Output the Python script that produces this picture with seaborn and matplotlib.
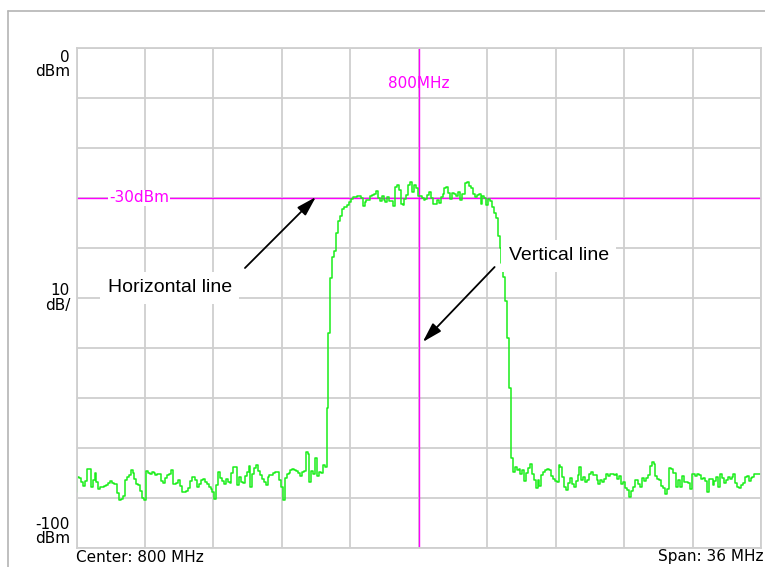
"""
Spectrum analyzer screen: trace with horizontal and vertical marker lines
"""
import numpy as np
import pandas as pd

import matplotlib
matplotlib.use('Agg')
import matplotlib.pyplot as plt
from matplotlib import font_manager
from matplotlib.lines import Line2D
import seaborn as sns

# Sweep settings
center_mhz = 800.0
span_mhz = 36.0
step_mhz = 0.1
ref_level = 0
bottom_level = -100
div_db = 10
marker_level = -30

# Trace levels (dBm), every 0.1 MHz
noise_low = [
    -88.7, -85.7, -85.9, -86.8, -87.5, -86.5, -84.2, -84.1, -87.7, -86.4,
    -84.9, -86.8, -88.1, -87.8, -87.7, -87.5, -87.4, -86.9, -86.5, -87.0,
    -87.1, -87.1, -89.0, -90.4, -90.2, -89.6, -86.4, -85.8, -85.4, -84.4,
    -84.9, -86.2, -87.1, -87.4, -88.5, -90.0, -90.4, -84.5, -85.0, -85.1,
    -84.7, -85.0, -85.4, -85.2, -85.1, -86.5, -86.9, -85.9, -85.4, -85.1,
    -84.4, -87.1, -87.1, -87.0, -86.4, -87.5, -88.7, -88.7, -88.5, -87.9,
    -86.5, -85.7, -85.7, -86.3, -87.7, -87.1, -86.3, -86.2, -86.7, -87.2,
    -87.7, -88.1, -88.7, -90.1, -87.3, -84.8, -85.9, -86.5, -87.1, -86.1,
    -86.8, -86.9, -85.0, -83.7, -83.7, -87.4, -85.7, -86.7, -86.9, -85.6,
    -84.8, -83.5, -87.7, -85.1, -84.0, -83.4, -84.6, -85.4, -86.2, -86.7,
    -87.4, -85.7, -85.4, -85.4, -85.0, -84.7, -84.7, -86.4, -87.8, -90.4,
    -86.0, -85.1, -84.9, -84.4, -84.1, -84.4, -84.6, -84.9, -85.5, -84.8,
    -84.6, -80.7, -81.1, -86.7, -84.5, -85.2, -82.0, -85.5, -84.7, -85.0,
    -83.4, -83.7,
]
rise = [-72.0, -57.0, -46.0, -41.8, -40.5, -37.0, -34.5, -33.5, -32.2, -31.8,
        -31.8, -31.4]
plateau = [
    -30.7, -30.1, -29.8, -29.7, -29.6, -29.6, -30.0, -31.5, -30.8, -30.4,
    -30.3, -29.6, -29.4, -29.1, -28.5, -30.0, -30.5, -29.6, -30.3, -30.7,
    -29.8, -30.6, -30.6, -31.5, -27.8, -27.4, -28.4, -31.1, -31.4, -30.1,
    -29.4, -27.4, -26.8, -28.7, -27.4, -28.0, -29.6, -29.6, -30.0, -30.4,
    -30.1, -29.4, -28.8, -30.0, -31.2, -31.1, -30.4, -31.0, -29.7, -29.1,
    -28.0, -27.8, -29.0, -30.2, -28.9, -29.1, -29.6, -28.8, -30.4, -29.1,
    -29.1, -27.0, -26.7, -27.5, -28.0, -29.2, -29.8, -29.4, -29.1, -31.1,
    -29.5, -30.0, -31.4, -30.2, -30.5, -31.8, -33.0, -34.0,
]
fall = [-37.5, -40.0, -43.0, -45.8, -50.5, -58.0, -68.0]
noise_high = [
    -82.0, -84.7, -83.7, -84.4, -84.1, -85.1, -84.4, -86.6, -85.0, -84.0,
    -83.1, -85.1, -86.4, -87.9, -86.4, -87.5, -85.3, -84.8, -84.4, -84.1,
    -84.4, -85.5, -86.2, -86.5, -86.7, -83.4, -83.8, -85.7, -87.7, -88.4,
    -86.9, -85.9, -87.1, -87.7, -86.6, -85.4, -83.7, -86.4, -85.8, -86.7,
    -86.4, -85.1, -84.7, -85.4, -85.3, -86.4, -87.1, -86.4, -86.7, -86.1,
    -85.2, -85.6, -85.1, -85.1, -85.4, -85.1, -86.2, -85.5, -87.1, -86.8,
    -88.0, -88.4, -89.7, -88.6, -87.7, -86.3, -86.3, -87.1, -87.7, -85.9,
    -86.6, -85.9, -85.3, -83.6, -82.8, -83.1, -85.5, -86.2, -86.4, -87.5,
    -88.0, -89.1, -88.1, -84.0, -84.1, -85.0, -85.0, -87.7, -86.4, -87.7,
    -85.5, -86.7, -86.8, -87.0, -88.2, -85.1, -85.1, -85.5, -85.1, -85.3,
    -86.2, -85.9, -86.6, -88.7, -86.2, -86.1, -87.4, -86.5, -85.8, -87.7,
    -85.1, -86.0, -87.0, -86.4, -85.7, -86.1, -85.7, -85.1, -86.9, -87.8,
    -88.0, -87.4, -86.9, -85.7, -85.6, -86.5, -86.0, -85.8, -85.1, -85.1,
    -85.1, -85.1,
]

level = noise_low + rise + plateau + fall + noise_high
start_mhz = center_mhz - span_mhz / 2
stop_mhz = center_mhz + span_mhz / 2
freq = start_mhz + step_mhz * np.arange(len(level))
df = pd.DataFrame({'freq': freq, 'level': level})

sns.set_style('white')
plt.rcParams['font.family'] = ['DejaVu Sans']

# callout font: narrow Helvetica look if available
names = {f.name for f in font_manager.fontManager.ttflist}
if 'Liberation Sans Narrow' in names:
    callout_font, callout_size = 'Liberation Sans Narrow', 17
else:
    callout_font, callout_size = 'Liberation Sans', 14

W, H = 765, 567
fig = plt.figure(figsize=(W / 100, H / 100), dpi=100, facecolor='white')
ax = fig.add_axes([76.5 / W, 19 / H, 684.5 / W, 500 / H])

grid_color = '#cfcfcf'
ax.set_xlim(start_mhz, stop_mhz)
ax.set_ylim(bottom_level, ref_level)
ax.set_xticks(np.linspace(start_mhz, stop_mhz, 11))
ax.set_yticks(np.arange(bottom_level, ref_level + 1, div_db))
ax.tick_params(length=0, labelbottom=False, labelleft=False)
ax.grid(True, color=grid_color, lw=1.3)
for sp in ax.spines.values():
    sp.set_color(grid_color)
    sp.set_linewidth(1.3)

# marker lines
magenta = '#ff00ff'
ax.axhline(marker_level, color=magenta, lw=1.0, zorder=1.5)
ax.axvline(center_mhz, color=magenta, lw=1.0, zorder=1.5)
ax.text(785.3, marker_level, f'{marker_level}dBm', color=magenta, fontsize=11,
        ha='center', va='center', zorder=2.5,
        bbox=dict(boxstyle='square,pad=0.05', fc='white', ec='none'))
ax.text(center_mhz, -7.2, f'{center_mhz:.0f}MHz', color=magenta, fontsize=11,
        ha='center', va='center', zorder=2.5)

# trace
sns.lineplot(data=df, x='freq', y='level', ax=ax, color='#1aee1a', lw=1.1,
             drawstyle='steps-mid', estimator=None, errorbar=None, zorder=2)
ax.set_xlabel('')
ax.set_ylabel('')

# callouts
arrow = dict(arrowstyle='-|>,head_length=0.75,head_width=0.22', color='black',
             lw=1.3, mutation_scale=16, shrinkA=0, shrinkB=0)
ax.annotate('', xy=(794.59, -29.8), xytext=(790.86, -44.0), arrowprops=arrow,
            zorder=6)
ax.annotate('', xy=(800.21, -58.8), xytext=(803.99, -43.8), arrowprops=arrow,
            zorder=6)
box = dict(boxstyle='square,pad=0.38', fc='white', ec='none')
ax.text(786.91, -48.0, 'Horizontal line', family=callout_font, color='black',
        fontsize=callout_size, ha='center', va='center', bbox=box, zorder=5)
ax.text(807.36, -41.6, 'Vertical line', family=callout_font, color='black',
        fontsize=callout_size, ha='center', va='center', bbox=box, zorder=5)

# screen annotations
ink = '#000000'
lab = dict(fontsize=11, color=ink, ha='right', multialignment='right',
           linespacing=0.95)
fig.text(70 / W, 1 - 50 / H, f'{ref_level}\ndBm', va='top', **lab)
fig.text(70 / W, 1 - 298 / H, f'{div_db}\ndB/', va='center', **lab)
fig.text(70 / W, 1 - 546 / H, f'{bottom_level}\ndBm', va='bottom', **lab)
fig.text(76 / W, 1 - 557 / H, f'Center: {center_mhz:.0f} MHz', fontsize=11,
         color=ink, ha='left', va='center')
fig.text(764 / W, 1 - 557 / H, f'Span: {span_mhz:.0f} MHz', fontsize=11,
         color=ink, ha='right', va='center')

# frame lines of the screen capture
frame = '#b4b4b4'
fig.add_artist(Line2D([8 / W, 1], [1 - 11 / H] * 2, color=frame, lw=1.2,
                      transform=fig.transFigure))
fig.add_artist(Line2D([8 / W] * 2, [0, 1 - 11 / H], color=frame, lw=1.2,
                      transform=fig.transFigure))

fig.savefig('out.png', dpi=100, facecolor='white')
plt.close(fig)
